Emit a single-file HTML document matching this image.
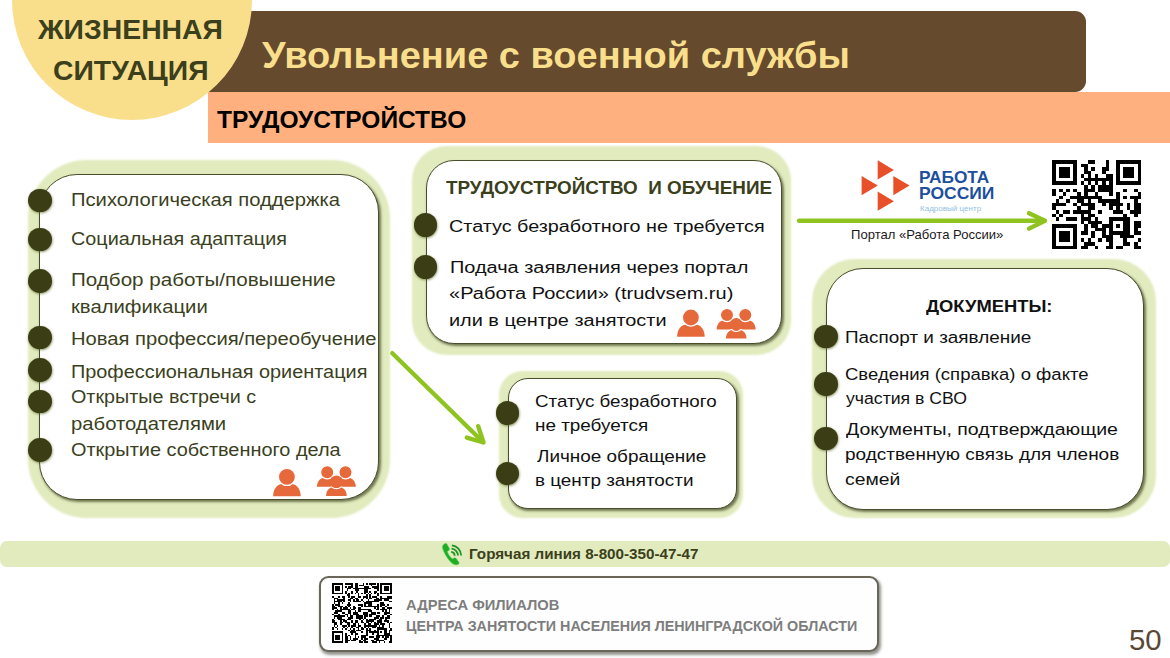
<!DOCTYPE html>
<html lang="ru"><head><meta charset="utf-8"><title>Увольнение с военной службы</title>
<style>
html,body{margin:0;padding:0}
body{width:1170px;height:658px;position:relative;overflow:hidden;background:#fff;font-family:"Liberation Sans", sans-serif}
.t{position:absolute;white-space:pre;line-height:1;transform-origin:0 0}
.b{font-weight:bold}
.abs{position:absolute}
.outer{position:absolute;background:#e1ebbe;box-shadow:0 0 2.2px 1.2px #e1ebbe}
.inner{position:absolute;background:#fff;border:1.4px solid #4a4d2c;box-sizing:border-box;box-shadow:1.5px 2px 2.5px rgba(40,45,10,.6)}
.dot{position:absolute;width:23.6px;height:23.6px;border-radius:50%;background:#3b3e15;box-shadow:.5px 1px 2.5px rgba(70,80,10,.6)}
.vl{position:absolute;width:1.5px;background:#4a4d2c}

</style></head><body>
<div class="abs" style="left:100px;top:11.4px;width:985.5px;height:81px;background:#654a2e;border-radius:0 11px 11px 0"></div>
<div class="abs" style="left:208px;top:92.4px;width:962px;height:50.6px;background:#ffb07e"></div>
<div class="abs" style="left:12px;top:-120px;width:240px;height:240px;border-radius:50%;background:#f9df8c"></div>
<div class="outer" style="left:29.8px;top:161.6px;width:358.6px;height:354.3px;border-radius:57.4px"></div>
<div class="inner" style="left:39.3px;top:174.0px;width:339.9px;height:326.2px;border-radius:38px"></div>
<div class="outer" style="left:413.6px;top:148.1px;width:375.0px;height:205.3px;border-radius:33.4px"></div>
<div class="inner" style="left:425.5px;top:159.6px;width:356.1px;height:184.0px;border-radius:28px"></div>
<div class="outer" style="left:500.6px;top:373.0px;width:240.2px;height:143.2px;border-radius:22.4px"></div>
<div class="inner" style="left:507.6px;top:378.4px;width:229.7px;height:130.4px;border-radius:20px"></div>
<div class="outer" style="left:813.6px;top:261.2px;width:340.0px;height:254.5px;border-radius:41.4px"></div>
<div class="inner" style="left:825.5px;top:267.6px;width:318.3px;height:242.6px;border-radius:37px"></div>
<div class="dot" style="left:28.4px;top:188.6px"></div>
<div class="dot" style="left:28.4px;top:227.6px"></div>
<div class="dot" style="left:28.4px;top:269.2px"></div>
<div class="dot" style="left:28.4px;top:325.6px"></div>
<div class="dot" style="left:28.4px;top:358.0px"></div>
<div class="dot" style="left:28.4px;top:389.8px"></div>
<div class="dot" style="left:28.4px;top:438.4px"></div>
<div class="dot" style="left:413.8px;top:213.1px"></div>
<div class="dot" style="left:413.8px;top:255.0px"></div>
<div class="dot" style="left:495.8px;top:401.3px"></div>
<div class="dot" style="left:495.8px;top:461.5px"></div>
<div class="dot" style="left:814.0px;top:324.6px"></div>
<div class="dot" style="left:814.0px;top:372.2px"></div>
<div class="dot" style="left:814.0px;top:426.7px"></div>
<div class="abs" style="left:0;top:540.8px;width:1170px;height:26.6px;background:#e1ebbe;border-radius:7px"></div>
<div class="abs" style="left:319.2px;top:575.6px;width:559.6px;height:76px;box-sizing:border-box;border:2px solid #696659;border-radius:9.5px;background:#fefefe;box-shadow:1.5px 2.5px 3px rgba(60,60,50,.55)"></div>
<svg class="abs" style="left:0;top:0" width="1170" height="658" viewBox="0 0 1170 658">
<g fill="none" stroke="#8fc31f" stroke-width="4.4" stroke-linecap="round" stroke-linejoin="round">
<path d="M799 220.7H1044.5"/><path d="M1029 213.3L1045 220.7L1029 228.6"/>
<path d="M392.3 353.2L483 442"/><path d="M466.8 437.6L483.5 442.5L478.2 426.2"/>
</g>
<path d="M877.7 160.3L893.9 169.9L877.7 179.5Z" fill="#e8502a"/>
<path d="M861.6 176L877.8 185.6L861.6 195.2Z" fill="#e8502a"/>
<path d="M893.3 176L909.5 185.6L893.3 195.2Z" fill="#e8502a"/>
<path d="M877.7 191.6L893.9 201.2L877.7 210.8Z" fill="#e8502a"/>
<path d="M273.10 496.20C273.10 490.10 276.41 484.61 281.66 484.00L292.14 484.00C297.39 484.61 300.70 490.10 300.70 496.20Z" fill="#e5693a"/><circle cx="286.90" cy="476.90" r="8.55" fill="#e5693a" stroke="#fff" stroke-width="1.3"/><path d="M316.90 486.80C316.90 482.35 319.37 478.34 323.29 477.90L331.11 477.90C335.03 478.34 337.50 482.35 337.50 486.80Z" fill="#e5693a"/><path d="M335.20 486.80C335.20 482.35 337.67 478.34 341.59 477.90L349.41 477.90C353.33 478.34 355.80 482.35 355.80 486.80Z" fill="#e5693a"/><circle cx="327.20" cy="472.30" r="6.65" fill="#e5693a" stroke="#fff" stroke-width="1.3"/><circle cx="345.50" cy="472.30" r="6.65" fill="#e5693a" stroke="#fff" stroke-width="1.3"/><clipPath id="cl399"><rect x="320.20" y="486.90" width="34" height="12"/></clipPath><g stroke="#fff" stroke-width="2.2" paint-order="stroke"><path d="M326.10 495.90C326.10 491.60 328.57 487.73 332.49 487.30L340.31 487.30C344.23 487.73 346.70 491.60 346.70 495.90Z" fill="#e5693a"/></g><circle cx="336.40" cy="481.70" r="6.9" fill="none" stroke="#fff" stroke-width="1.3" clip-path="url(#cl399)"/><circle cx="336.40" cy="481.70" r="6.30" fill="#e5693a"/>
<path d="M677.10 336.80C677.10 330.70 680.41 325.21 685.66 324.60L696.14 324.60C701.39 325.21 704.70 330.70 704.70 336.80Z" fill="#e5693a"/><circle cx="690.90" cy="317.50" r="8.55" fill="#e5693a" stroke="#fff" stroke-width="1.3"/><path d="M716.70 329.50C716.70 325.05 719.17 321.05 723.09 320.60L730.91 320.60C734.83 321.05 737.30 325.05 737.30 329.50Z" fill="#e5693a"/><path d="M735.00 329.50C735.00 325.05 737.47 321.05 741.39 320.60L749.21 320.60C753.13 321.05 755.60 325.05 755.60 329.50Z" fill="#e5693a"/><circle cx="727.00" cy="315.00" r="6.65" fill="#e5693a" stroke="#fff" stroke-width="1.3"/><circle cx="745.30" cy="315.00" r="6.65" fill="#e5693a" stroke="#fff" stroke-width="1.3"/><clipPath id="cl0"><rect x="720.00" y="329.60" width="34" height="12"/></clipPath><g stroke="#fff" stroke-width="2.2" paint-order="stroke"><path d="M725.90 338.60C725.90 334.30 728.37 330.43 732.29 330.00L740.11 330.00C744.03 330.43 746.50 334.30 746.50 338.60Z" fill="#e5693a"/></g><circle cx="736.20" cy="324.40" r="6.9" fill="none" stroke="#fff" stroke-width="1.3" clip-path="url(#cl0)"/><circle cx="736.20" cy="324.40" r="6.30" fill="#e5693a"/>
<g transform="translate(441,542.8)" fill="#20ad24"><path d="M3.2 1.2C4.2 0.2 5.4 0.3 6 1.3L8.4 5.4C8.9 6.3 8.6 7.2 7.8 7.8L6.4 8.8C6.9 11 9.3 14.6 11.4 16L12.9 15.1C13.8 14.6 14.7 14.8 15.3 15.6L17.9 19.3C18.5 20.2 18.2 21.2 17.2 21.7C14.6 23 11.5 21.6 8.2 17.6C4.6 13.2 1.2 6.6 1.3 3.9C1.4 2.8 2.2 2 3.2 1.2Z" stroke="#7fe07f" stroke-width="0.5"/><g fill="none" stroke="#1f9423" stroke-width="1.75"><path d="M10.21 9.12A3.9 3.9 0 0 1 13.70 12.86"/><path d="M10.55 5.84A7.2 7.2 0 0 1 17.00 12.75"/><path d="M10.89 2.66A10.4 10.4 0 0 1 20.19 12.64"/></g></g>
</svg>
<svg style="position:absolute;left:1052.4px;top:160.4px" width="89.2" height="89.2" viewBox="0 0 25 25" shape-rendering="crispEdges"><rect width="25" height="25" fill="#fff"/><path d="M0 0h7v1h-7zM10 0h2v1h-2zM15 0h1v1h-1zM18 0h7v1h-7zM0 1h1v1h-1zM6 1h1v1h-1zM8 1h2v1h-2zM15 1h1v1h-1zM18 1h1v1h-1zM24 1h1v1h-1zM0 2h1v1h-1zM2 2h3v1h-3zM6 2h1v1h-1zM9 2h1v1h-1zM11 2h1v1h-1zM14 2h2v1h-2zM18 2h1v1h-1zM20 2h3v1h-3zM24 2h1v1h-1zM0 3h1v1h-1zM2 3h3v1h-3zM6 3h1v1h-1zM9 3h2v1h-2zM14 3h1v1h-1zM18 3h1v1h-1zM20 3h3v1h-3zM24 3h1v1h-1zM0 4h1v1h-1zM2 4h3v1h-3zM6 4h1v1h-1zM8 4h1v1h-1zM10 4h1v1h-1zM12 4h1v1h-1zM15 4h2v1h-2zM18 4h1v1h-1zM20 4h3v1h-3zM24 4h1v1h-1zM0 5h1v1h-1zM6 5h1v1h-1zM9 5h8v1h-8zM18 5h1v1h-1zM24 5h1v1h-1zM0 6h7v1h-7zM8 6h1v1h-1zM10 6h1v1h-1zM12 6h1v1h-1zM14 6h1v1h-1zM16 6h1v1h-1zM18 6h7v1h-7zM9 7h1v1h-1zM11 7h1v1h-1zM13 7h4v1h-4zM0 8h1v1h-1zM2 8h1v1h-1zM4 8h1v1h-1zM6 8h1v1h-1zM9 8h3v1h-3zM13 8h4v1h-4zM20 8h1v1h-1zM23 8h1v1h-1zM0 9h1v1h-1zM3 9h1v1h-1zM7 9h1v1h-1zM9 9h1v1h-1zM12 9h1v1h-1zM16 9h1v1h-1zM18 9h1v1h-1zM24 9h1v1h-1zM2 10h1v1h-1zM5 10h9v1h-9zM18 10h1v1h-1zM20 10h1v1h-1zM22 10h3v1h-3zM1 11h1v1h-1zM4 11h1v1h-1zM7 11h2v1h-2zM10 11h1v1h-1zM13 11h6v1h-6zM23 11h1v1h-1zM0 12h4v1h-4zM6 12h1v1h-1zM8 12h4v1h-4zM14 12h1v1h-1zM16 12h4v1h-4zM21 12h1v1h-1zM23 12h2v1h-2zM0 13h1v1h-1zM7 13h1v1h-1zM10 13h2v1h-2zM16 13h1v1h-1zM18 13h1v1h-1zM21 13h1v1h-1zM23 13h2v1h-2zM1 14h1v1h-1zM3 14h2v1h-2zM6 14h5v1h-5zM13 14h1v1h-1zM17 14h3v1h-3zM22 14h3v1h-3zM0 15h1v1h-1zM2 15h1v1h-1zM8 15h1v1h-1zM10 15h2v1h-2zM20 15h1v1h-1zM23 15h1v1h-1zM1 16h1v1h-1zM4 16h3v1h-3zM8 16h3v1h-3zM12 16h1v1h-1zM16 16h6v1h-6zM8 17h1v1h-1zM10 17h4v1h-4zM16 17h1v1h-1zM20 17h2v1h-2zM23 17h2v1h-2zM0 18h7v1h-7zM9 18h1v1h-1zM11 18h2v1h-2zM14 18h3v1h-3zM18 18h1v1h-1zM20 18h2v1h-2zM23 18h2v1h-2zM0 19h1v1h-1zM6 19h1v1h-1zM9 19h1v1h-1zM12 19h3v1h-3zM16 19h1v1h-1zM20 19h2v1h-2zM23 19h1v1h-1zM0 20h1v1h-1zM2 20h3v1h-3zM6 20h1v1h-1zM8 20h2v1h-2zM11 20h1v1h-1zM14 20h1v1h-1zM16 20h6v1h-6zM23 20h2v1h-2zM0 21h1v1h-1zM2 21h3v1h-3zM6 21h1v1h-1zM11 21h1v1h-1zM14 21h3v1h-3zM19 21h4v1h-4zM0 22h1v1h-1zM2 22h3v1h-3zM6 22h1v1h-1zM8 22h1v1h-1zM10 22h1v1h-1zM13 22h1v1h-1zM15 22h2v1h-2zM20 22h1v1h-1zM24 22h1v1h-1zM0 23h1v1h-1zM6 23h1v1h-1zM9 23h3v1h-3zM16 23h1v1h-1zM20 23h2v1h-2zM23 23h1v1h-1zM0 24h7v1h-7zM8 24h2v1h-2zM12 24h1v1h-1zM15 24h2v1h-2zM18 24h2v1h-2zM23 24h2v1h-2z" fill="#000"/></svg>
<svg style="position:absolute;left:332.4px;top:583px" width="59.8" height="59.8" viewBox="0 0 37 37" shape-rendering="crispEdges"><rect width="37" height="37" fill="#fff"/><path d="M0 0h7v1h-7zM8 0h5v1h-5zM14 0h2v1h-2zM19 0h1v1h-1zM21 0h1v1h-1zM23 0h4v1h-4zM28 0h1v1h-1zM30 0h7v1h-7zM0 1h1v1h-1zM6 1h1v1h-1zM12 1h1v1h-1zM14 1h2v1h-2zM17 1h3v1h-3zM24 1h1v1h-1zM28 1h1v1h-1zM30 1h1v1h-1zM36 1h1v1h-1zM0 2h1v1h-1zM2 2h3v1h-3zM6 2h1v1h-1zM8 2h1v1h-1zM10 2h3v1h-3zM14 2h2v1h-2zM20 2h3v1h-3zM25 2h4v1h-4zM30 2h1v1h-1zM32 2h3v1h-3zM36 2h1v1h-1zM0 3h1v1h-1zM2 3h3v1h-3zM6 3h1v1h-1zM9 3h3v1h-3zM13 3h11v1h-11zM26 3h3v1h-3zM30 3h1v1h-1zM32 3h3v1h-3zM36 3h1v1h-1zM0 4h1v1h-1zM2 4h3v1h-3zM6 4h1v1h-1zM9 4h1v1h-1zM14 4h3v1h-3zM20 4h2v1h-2zM28 4h1v1h-1zM30 4h1v1h-1zM32 4h3v1h-3zM36 4h1v1h-1zM0 5h1v1h-1zM6 5h1v1h-1zM8 5h1v1h-1zM12 5h1v1h-1zM15 5h1v1h-1zM20 5h2v1h-2zM23 5h1v1h-1zM26 5h2v1h-2zM30 5h1v1h-1zM36 5h1v1h-1zM0 6h7v1h-7zM8 6h1v1h-1zM10 6h1v1h-1zM12 6h1v1h-1zM14 6h1v1h-1zM16 6h1v1h-1zM18 6h1v1h-1zM20 6h1v1h-1zM22 6h1v1h-1zM24 6h1v1h-1zM26 6h1v1h-1zM28 6h1v1h-1zM30 6h7v1h-7zM9 7h2v1h-2zM16 7h1v1h-1zM21 7h1v1h-1zM23 7h1v1h-1zM28 7h1v1h-1zM0 8h1v1h-1zM4 8h1v1h-1zM6 8h2v1h-2zM10 8h1v1h-1zM12 8h2v1h-2zM16 8h2v1h-2zM19 8h3v1h-3zM23 8h1v1h-1zM25 8h3v1h-3zM30 8h1v1h-1zM34 8h3v1h-3zM1 9h3v1h-3zM7 9h1v1h-1zM11 9h2v1h-2zM14 9h2v1h-2zM19 9h1v1h-1zM21 9h1v1h-1zM23 9h2v1h-2zM27 9h2v1h-2zM30 9h7v1h-7zM1 10h1v1h-1zM3 10h5v1h-5zM10 10h2v1h-2zM13 10h1v1h-1zM15 10h2v1h-2zM18 10h1v1h-1zM22 10h1v1h-1zM26 10h5v1h-5zM32 10h3v1h-3zM1 11h5v1h-5zM7 11h1v1h-1zM11 11h1v1h-1zM13 11h5v1h-5zM19 11h1v1h-1zM21 11h8v1h-8zM35 11h2v1h-2zM1 12h1v1h-1zM4 12h1v1h-1zM6 12h1v1h-1zM10 12h1v1h-1zM20 12h5v1h-5zM30 12h2v1h-2zM0 13h1v1h-1zM2 13h3v1h-3zM9 13h3v1h-3zM16 13h3v1h-3zM20 13h1v1h-1zM22 13h3v1h-3zM28 13h1v1h-1zM30 13h3v1h-3zM34 13h1v1h-1zM0 14h2v1h-2zM4 14h3v1h-3zM8 14h1v1h-1zM10 14h1v1h-1zM13 14h1v1h-1zM18 14h1v1h-1zM20 14h9v1h-9zM30 14h1v1h-1zM33 14h1v1h-1zM0 15h3v1h-3zM5 15h1v1h-1zM7 15h3v1h-3zM11 15h1v1h-1zM13 15h2v1h-2zM16 15h2v1h-2zM26 15h1v1h-1zM28 15h1v1h-1zM31 15h2v1h-2zM34 15h3v1h-3zM0 16h1v1h-1zM3 16h1v1h-1zM5 16h6v1h-6zM12 16h2v1h-2zM16 16h8v1h-8zM27 16h2v1h-2zM30 16h4v1h-4zM35 16h1v1h-1zM2 17h4v1h-4zM10 17h2v1h-2zM14 17h1v1h-1zM16 17h2v1h-2zM22 17h3v1h-3zM31 17h1v1h-1zM33 17h1v1h-1zM35 17h1v1h-1zM1 18h3v1h-3zM6 18h2v1h-2zM10 18h2v1h-2zM13 18h3v1h-3zM19 18h3v1h-3zM24 18h3v1h-3zM28 18h2v1h-2zM32 18h4v1h-4zM0 19h1v1h-1zM4 19h1v1h-1zM8 19h2v1h-2zM11 19h1v1h-1zM13 19h4v1h-4zM19 19h3v1h-3zM23 19h4v1h-4zM32 19h2v1h-2zM36 19h1v1h-1zM1 20h7v1h-7zM9 20h1v1h-1zM11 20h2v1h-2zM15 20h4v1h-4zM20 20h2v1h-2zM23 20h2v1h-2zM27 20h3v1h-3zM31 20h1v1h-1zM34 20h2v1h-2zM1 21h1v1h-1zM3 21h3v1h-3zM10 21h3v1h-3zM15 21h4v1h-4zM20 21h1v1h-1zM26 21h3v1h-3zM30 21h2v1h-2zM33 21h3v1h-3zM0 22h1v1h-1zM4 22h4v1h-4zM9 22h3v1h-3zM17 22h1v1h-1zM19 22h1v1h-1zM21 22h1v1h-1zM23 22h4v1h-4zM29 22h2v1h-2zM33 22h1v1h-1zM0 23h2v1h-2zM5 23h1v1h-1zM7 23h2v1h-2zM12 23h1v1h-1zM14 23h2v1h-2zM18 23h1v1h-1zM21 23h5v1h-5zM28 23h3v1h-3zM32 23h3v1h-3zM0 24h3v1h-3zM5 24h2v1h-2zM8 24h3v1h-3zM12 24h1v1h-1zM14 24h2v1h-2zM18 24h2v1h-2zM21 24h2v1h-2zM24 24h1v1h-1zM26 24h1v1h-1zM28 24h3v1h-3zM34 24h1v1h-1zM36 24h1v1h-1zM1 25h2v1h-2zM5 25h1v1h-1zM9 25h2v1h-2zM13 25h2v1h-2zM16 25h1v1h-1zM20 25h1v1h-1zM22 25h2v1h-2zM26 25h3v1h-3zM30 25h3v1h-3zM35 25h1v1h-1zM1 26h1v1h-1zM3 26h1v1h-1zM6 26h3v1h-3zM10 26h1v1h-1zM12 26h3v1h-3zM16 26h2v1h-2zM20 26h8v1h-8zM29 26h1v1h-1zM31 26h1v1h-1zM35 26h1v1h-1zM0 27h1v1h-1zM2 27h1v1h-1zM7 27h1v1h-1zM9 27h1v1h-1zM12 27h1v1h-1zM15 27h2v1h-2zM18 27h1v1h-1zM20 27h1v1h-1zM22 27h1v1h-1zM25 27h2v1h-2zM28 27h4v1h-4zM35 27h1v1h-1zM0 28h1v1h-1zM3 28h1v1h-1zM6 28h1v1h-1zM8 28h1v1h-1zM11 28h1v1h-1zM13 28h1v1h-1zM16 28h1v1h-1zM18 28h2v1h-2zM21 28h1v1h-1zM23 28h1v1h-1zM28 28h6v1h-6zM36 28h1v1h-1zM10 29h1v1h-1zM12 29h2v1h-2zM15 29h3v1h-3zM21 29h3v1h-3zM26 29h1v1h-1zM28 29h1v1h-1zM32 29h2v1h-2zM35 29h2v1h-2zM0 30h7v1h-7zM11 30h4v1h-4zM18 30h1v1h-1zM21 30h1v1h-1zM23 30h6v1h-6zM30 30h1v1h-1zM32 30h2v1h-2zM35 30h1v1h-1zM0 31h1v1h-1zM6 31h1v1h-1zM8 31h1v1h-1zM12 31h1v1h-1zM14 31h2v1h-2zM21 31h1v1h-1zM25 31h1v1h-1zM28 31h1v1h-1zM32 31h4v1h-4zM0 32h1v1h-1zM2 32h3v1h-3zM6 32h1v1h-1zM8 32h1v1h-1zM10 32h1v1h-1zM14 32h1v1h-1zM18 32h4v1h-4zM27 32h10v1h-10zM0 33h1v1h-1zM2 33h3v1h-3zM6 33h1v1h-1zM8 33h2v1h-2zM11 33h1v1h-1zM14 33h1v1h-1zM16 33h1v1h-1zM18 33h3v1h-3zM23 33h3v1h-3zM27 33h3v1h-3zM31 33h1v1h-1zM33 33h2v1h-2zM36 33h1v1h-1zM0 34h1v1h-1zM2 34h3v1h-3zM6 34h1v1h-1zM8 34h2v1h-2zM11 34h1v1h-1zM13 34h3v1h-3zM18 34h1v1h-1zM20 34h2v1h-2zM26 34h3v1h-3zM32 34h2v1h-2zM36 34h1v1h-1zM0 35h1v1h-1zM6 35h1v1h-1zM8 35h3v1h-3zM12 35h3v1h-3zM17 35h1v1h-1zM19 35h2v1h-2zM24 35h2v1h-2zM27 35h5v1h-5zM36 35h1v1h-1zM0 36h7v1h-7zM8 36h2v1h-2zM17 36h2v1h-2zM20 36h2v1h-2zM25 36h3v1h-3zM29 36h1v1h-1zM32 36h1v1h-1zM35 36h2v1h-2z" fill="#000"/></svg>
<div class="t b" style="left:38.20px;top:16px;font-size:27.2px;color:#3b3f1c;transform:scaleX(1.0426)">ЖИЗНЕННАЯ</div>
<div class="t b" style="left:53.26px;top:57px;font-size:27.2px;color:#3b3f1c;transform:scaleX(1.0422)">СИТУАЦИЯ</div>
<div class="t b" style="left:261.50px;top:37px;font-size:37.5px;color:#f9df8c;transform:scaleX(1.0130)">Увольнение с военной службы</div>
<div class="t b" style="left:217.00px;top:108px;font-size:24.5px;color:#000;transform:scaleX(1.0008)">ТРУДОУСТРОЙСТВО</div>
<div class="t" style="left:70.65px;top:192px;font-size:17.5px;color:#3b3f22;transform:scaleX(1.1539)">Психологическая поддержка</div>
<div class="t" style="left:70.67px;top:231px;font-size:17.5px;color:#3b3f22;transform:scaleX(1.1307)">Социальная адаптация</div>
<div class="t" style="left:70.62px;top:272px;font-size:17.5px;color:#3b3f22;transform:scaleX(1.1776)">Подбор работы/повышение</div>
<div class="t" style="left:70.64px;top:299px;font-size:17.5px;color:#3b3f22;transform:scaleX(1.1586)">квалификации</div>
<div class="t" style="left:70.65px;top:331px;font-size:17.5px;color:#3b3f22;transform:scaleX(1.1529)">Новая профессия/переобучение</div>
<div class="t" style="left:70.66px;top:364px;font-size:17.5px;color:#3b3f22;transform:scaleX(1.1351)">Профессиональная ориентация</div>
<div class="t" style="left:70.67px;top:389px;font-size:17.5px;color:#3b3f22;transform:scaleX(1.1282)">Открытые встречи с</div>
<div class="t" style="left:70.64px;top:416px;font-size:17.5px;color:#3b3f22;transform:scaleX(1.1576)">работодателями</div>
<div class="t" style="left:70.66px;top:442px;font-size:17.5px;color:#3b3f22;transform:scaleX(1.1373)">Открытие собственного дела</div>
<div class="t b" style="left:446.00px;top:179px;font-size:18.7px;color:#3b3f1c;transform:scaleX(1.0093)">ТРУДОУСТРОЙСТВО  И ОБУЧЕНИЕ</div>
<div class="t" style="left:449.16px;top:218px;font-size:17.3px;color:#111;transform:scaleX(1.1449)">Статус безработного не требуется</div>
<div class="t" style="left:450.15px;top:259px;font-size:17.3px;color:#111;transform:scaleX(1.1521)">Подача заявления через портал</div>
<div class="t" style="left:449.34px;top:285px;font-size:17.3px;color:#111;transform:scaleX(1.1578)">«Работа России» (trudvsem.ru)</div>
<div class="t" style="left:449.35px;top:312px;font-size:17.3px;color:#111;transform:scaleX(1.1513)">или в центре занятости</div>
<div class="t" style="left:535.48px;top:394px;font-size:16.7px;color:#111;transform:scaleX(1.1250)">Статус безработного</div>
<div class="t" style="left:535.47px;top:418px;font-size:16.7px;color:#111;transform:scaleX(1.1306)">не требуется</div>
<div class="t" style="left:536.60px;top:449px;font-size:16.7px;color:#111;transform:scaleX(1.1336)">Личное обращение</div>
<div class="t" style="left:535.47px;top:473px;font-size:16.7px;color:#111;transform:scaleX(1.1304)">в центр занятости</div>
<div class="t b" style="left:926.00px;top:298px;font-size:17.2px;color:#111;transform:scaleX(1.0675)">ДОКУМЕНТЫ:</div>
<div class="t" style="left:844.58px;top:330px;font-size:16.9px;color:#111;transform:scaleX(1.1194)">Паспорт и заявление</div>
<div class="t" style="left:844.60px;top:367px;font-size:16.9px;color:#111;transform:scaleX(1.0959)">Сведения (справка) о факте</div>
<div class="t" style="left:845.70px;top:391px;font-size:16.9px;color:#111;transform:scaleX(1.0452)">участия в СВО</div>
<div class="t" style="left:845.70px;top:422px;font-size:16.9px;color:#111;transform:scaleX(1.1536)">Документы, подтверждающие</div>
<div class="t" style="left:844.58px;top:447px;font-size:16.9px;color:#111;transform:scaleX(1.1240)">родственную связь для членов</div>
<div class="t" style="left:844.55px;top:472px;font-size:16.9px;color:#111;transform:scaleX(1.1457)">семей</div>
<div class="t" style="left:851.39px;top:228px;font-size:13px;color:#1a1a1a;transform:scaleX(1.0053)">Портал «Работа России»</div>
<div class="t b" style="left:469.03px;top:547px;font-size:14.2px;color:#3b3f1c;transform:scaleX(1.0718)">Горячая линия 8-800-350-47-47</div>
<div class="t b" style="left:406.04px;top:597px;font-size:15.3px;color:#7d7d7d;transform:scaleX(0.9608)">АДРЕСА ФИЛИАЛОВ</div>
<div class="t b" style="left:406.06px;top:618px;font-size:15.3px;color:#7d7d7d;transform:scaleX(0.9353)">ЦЕНТРА ЗАНЯТОСТИ НАСЕЛЕНИЯ ЛЕНИНГРАДСКОЙ ОБЛАСТИ</div>
<div class="t" style="left:1128.77px;top:626px;font-size:28.6px;color:#5a4733;transform:scaleX(1.0267)">50</div>
<div class="t b" style="left:919.21px;top:170px;font-size:15.9px;color:#1d4f9e;transform:scaleX(1.0873)">РАБОТА</div>
<div class="t b" style="left:919.20px;top:186px;font-size:15.9px;color:#1d4f9e;transform:scaleX(1.1000)">РОССИИ</div>
<div class="t" style="left:920.40px;top:206px;font-size:6.6px;color:#94bfe6;transform:scaleX(1.2200)">Кадровый центр</div>
</body></html>
